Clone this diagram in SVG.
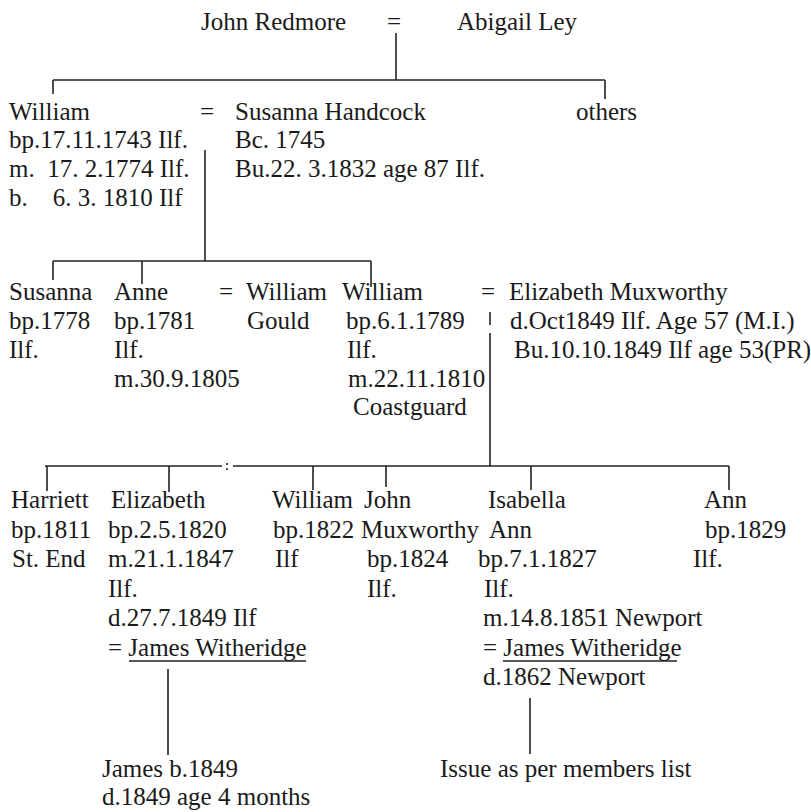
<svg xmlns="http://www.w3.org/2000/svg" width="811" height="812" viewBox="0 0 811 812">
<style>
text{font-family:"Liberation Serif","Times New Roman",serif;font-size:25px;fill:#1a1a1a}
.c line{stroke:#222;stroke-width:1.6;fill:none}
.u{stroke:#222;stroke-width:1.4}
</style>
<rect width="811" height="812" fill="#fff"/>
<g id="connectors" class="c">
<line x1="396" y1="33" x2="396" y2="80"/>
<line x1="53" y1="80" x2="605" y2="80"/>
<line x1="53" y1="80" x2="53" y2="94"/>
<line x1="605" y1="80" x2="605" y2="99"/>
<line x1="205" y1="150" x2="205" y2="261"/>
<line x1="53" y1="261" x2="371" y2="261"/>
<line x1="53" y1="261" x2="53" y2="280"/>
<line x1="142" y1="261" x2="142" y2="284"/>
<line x1="371" y1="261" x2="371" y2="287"/>
<line x1="490" y1="312" x2="490" y2="325"/>
<line x1="490" y1="333" x2="490" y2="466"/>
<line x1="45" y1="466" x2="222" y2="466"/>
<line x1="227" y1="463" x2="227" y2="465"/>
<line x1="227" y1="468" x2="227" y2="470"/>
<line x1="233" y1="466" x2="729" y2="466"/>
<line x1="47" y1="466" x2="47" y2="491"/>
<line x1="169" y1="466" x2="169" y2="492"/>
<line x1="313" y1="466" x2="313" y2="490"/>
<line x1="386" y1="466" x2="386" y2="487"/>
<line x1="531" y1="466" x2="531" y2="490"/>
<line x1="729" y1="466" x2="729" y2="490"/>
<line x1="168" y1="669" x2="168" y2="755"/>
<line x1="530" y1="698" x2="530" y2="754"/>
</g>
<g id="john-redmore"><text x="201" y="30">John Redmore</text></g>
<g id="marriage-1"><text x="387" y="30">=</text></g>
<g id="abigail-ley"><text x="457" y="30">Abigail Ley</text></g>
<g id="william-1743">
<text x="9" y="120">William</text>
<text x="9" y="148">bp.17.11.1743 Ilf.</text>
<text x="9" y="177" xml:space="preserve">m.  17. 2.1774 Ilf.</text>
<text x="9" y="206" xml:space="preserve">b.    6. 3. 1810 Ilf</text>
</g>
<g id="marriage-2"><text x="200" y="120">=</text></g>
<g id="susanna-handcock">
<text x="235" y="120">Susanna Handcock</text>
<text x="235" y="148">Bc. 1745</text>
<text x="235" y="177">Bu.22. 3.1832 age 87 Ilf.</text>
</g>
<g id="others"><text x="576" y="120">others</text></g>
<g id="susanna-1778">
<text x="9" y="300">Susanna</text>
<text x="9" y="329">bp.1778</text>
<text x="9" y="358">Ilf.</text>
</g>
<g id="anne-1781">
<text x="114" y="300">Anne</text>
<text x="114" y="329">bp.1781</text>
<text x="114" y="358">Ilf.</text>
<text x="114" y="387">m.30.9.1805</text>
</g>
<g id="marriage-3"><text x="219" y="300">=</text></g>
<g id="william-gould">
<text x="246" y="300">William</text>
<text x="247" y="329">Gould</text>
</g>
<g id="william-1789">
<text x="342" y="300">William</text>
<text x="346" y="329">bp.6.1.1789</text>
<text x="347" y="358">Ilf.</text>
<text x="348" y="387">m.22.11.1810</text>
<text x="353" y="415">Coastguard</text>
</g>
<g id="marriage-4"><text x="481" y="300">=</text></g>
<g id="elizabeth-muxworthy">
<text x="509" y="300">Elizabeth Muxworthy</text>
<text x="510" y="329">d.Oct1849 Ilf. Age 57 (M.I.)</text>
<text x="514" y="358">Bu.10.10.1849 Ilf age 53(PR)</text>
</g>
<g id="harriett">
<text x="11" y="508">Harriett</text>
<text x="11" y="537.5">bp.1811</text>
<text x="12" y="567">St. End</text>
</g>
<g id="elizabeth-1820">
<text x="111" y="508">Elizabeth</text>
<text x="108" y="537.5">bp.2.5.1820</text>
<text x="108" y="567">m.21.1.1847</text>
<text x="108" y="596.5">Ilf.</text>
<text x="108" y="626">d.27.7.1849 Ilf</text>
<text x="108" y="655.5">= James Witheridge</text>
<line class="u" x1="129" y1="661" x2="306" y2="661"/>
</g>
<g id="william-1822">
<text x="272" y="508">William</text>
<text x="273" y="537.5">bp.1822</text>
<text x="275" y="567">Ilf</text>
</g>
<g id="john-muxworthy">
<text x="364" y="508">John</text>
<text x="361" y="537.5">Muxworthy</text>
<text x="367" y="567">bp.1824</text>
<text x="367" y="596.5">Ilf.</text>
</g>
<g id="isabella-ann">
<text x="488" y="508">Isabella</text>
<text x="489" y="537.5">Ann</text>
<text x="478" y="567">bp.7.1.1827</text>
<text x="484" y="596.5">Ilf.</text>
<text x="483" y="626">m.14.8.1851 Newport</text>
<text x="483" y="655.5">= James Witheridge</text>
<line class="u" x1="503" y1="661" x2="677" y2="661"/>
<text x="483" y="685">d.1862 Newport</text>
</g>
<g id="ann-1829">
<text x="704" y="508">Ann</text>
<text x="705" y="537.5">bp.1829</text>
<text x="693" y="567">Ilf.</text>
</g>
<g id="james-1849">
<text x="102" y="777">James b.1849</text>
<text x="102" y="805">d.1849 age 4 months</text>
</g>
<g id="issue"><text x="440" y="777">Issue as per members list</text></g>
</svg>
